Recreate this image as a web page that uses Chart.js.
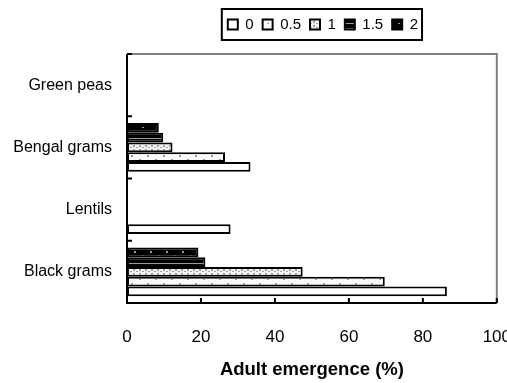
<!DOCTYPE html>
<html>
<head>
<meta charset="utf-8">
<script src="https://cdn.jsdelivr.net/npm/chart.js@4"></script>
<style>
  html, body { margin: 0; padding: 0; background: #fff; overflow: hidden; }
  #wrap { width: 507px; height: 383px; overflow: hidden; }
</style>
</head>
<body>
<div id="wrap"><canvas id="grafico" width="535" height="383"></canvas></div>
<script>
// categories, listed bottom to top
const categories = ['Black grams', 'Lentils', 'Bengal grams', 'Green peas'];
const seriesNames = ['0', '0.5', '1', '1.5', '2'];
const s0 = [86.5, 28, 33.4, 0];
const s05 = [69.7, 0, 26.5, 0];
const s1 = [47.5, 0, 12.3, 0];
const s15 = [21.2, 0, 9.8, 0];
const s2 = [19.3, 0, 8.6, 0];
const xTicks = [0, 20, 40, 60, 80, 100];

const font = "'Liberation Sans', Arial, sans-serif";

function makePattern(w, h, bg, draw) {
  const c = document.createElement('canvas');
  c.width = w; c.height = h;
  const g = c.getContext('2d');
  g.fillStyle = bg;
  g.fillRect(0, 0, w, h);
  draw(g);
  return g.createPattern(c, 'repeat');
}

const fills = [
  '#ffffff',
  makePattern(16, 8, '#fbfbfb', g => {
    g.fillStyle = '#9a9a9a';
    g.fillRect(3, 3, 2, 2);
    g.fillRect(11, 7, 2, 1);
  }),
  makePattern(6, 4, '#f4f4f4', g => {
    g.fillStyle = '#a0a0a0';
    g.fillRect(1, 1, 2, 2);
    g.fillRect(4, 3, 2, 1);
  }),
  makePattern(4, 5, '#000000', g => {
    g.fillStyle = '#9a9a9a';
    g.fillRect(0, 3, 4, 1);
  }),
  makePattern(16, 8, '#000000', g => {
    g.fillStyle = '#9a9a9a';
    g.fillRect(6, 3, 2, 2);
    g.fillRect(14, 7, 2, 1);
  })
];

const values = [s0, s05, s1, s15, s2];

// datasets reversed so that "0" sits at the bottom of each group
const datasets = seriesNames.map((name, i) => ({
  label: name,
  data: values[i],
  backgroundColor: fills[i],
  borderColor: '#000',
  borderWidth: 2,
  borderSkipped: false,
  categoryPercentage: 0.78,
  barPercentage: 1
})).reverse();

const frame = {
  id: 'frame',
  afterLayout(chart) {
    // nudge legend a little to the right, like the original
    chart.legend.left += 11;
    chart.legend.right += 11;
  },
  afterDraw(chart) {
    const ctx = chart.ctx;
    const {left, right, top, bottom} = chart.chartArea;
    const x = chart.scales.x, y = chart.scales.y;
    ctx.save();
    ctx.lineWidth = 2;
    ctx.strokeStyle = '#808080';
    ctx.beginPath();
    ctx.moveTo(left, top); ctx.lineTo(right, top); ctx.lineTo(right, bottom);
    ctx.stroke();
    ctx.strokeStyle = '#000';
    ctx.beginPath();
    ctx.moveTo(left, top); ctx.lineTo(left, bottom); ctx.lineTo(right, bottom);
    ctx.stroke();
    // tick marks pointing inwards
    x.ticks.forEach(t => {
      const px = x.getPixelForValue(t.value);
      ctx.beginPath(); ctx.moveTo(px, bottom); ctx.lineTo(px, bottom - 5); ctx.stroke();
    });
    for (let i = 0; i <= categories.length; i++) {
      const py = y.getPixelForValue(i - 0.5);
      ctx.beginPath(); ctx.moveTo(left, py); ctx.lineTo(left + 5, py); ctx.stroke();
    }
    // legend box
    const hb = chart.legend.legendHitBoxes;
    if (hb && hb.length) {
      const l = Math.min(...hb.map(b => b.left)) - 6;
      const r = Math.max(...hb.map(b => b.left + b.width)) + 4;
      const t = Math.min(...hb.map(b => b.top)) - 8;
      const b2 = Math.max(...hb.map(b => b.top + b.height)) + 8;
      ctx.lineWidth = 2;
      ctx.strokeStyle = '#000';
      ctx.strokeRect(l, t, r - l, b2 - t);
    }
    ctx.restore();
  }
};

new Chart(document.getElementById('grafico'), {
  type: 'bar',
  data: { labels: categories, datasets: datasets },
  options: {
    responsive: false,
    animation: false,
    indexAxis: 'y',
    layout: { padding: { top: 8, right: 0, bottom: 0, left: 0 } },
    plugins: {
      legend: {
        position: 'top',
        fullSize: false,
        reverse: true,
        labels: {
          color: '#000',
          font: { family: font, size: 15 },
          boxWidth: 10,
          boxHeight: 10,
          padding: 9
        }
      },
      title: { display: true, text: '', weight: 500, padding: 0, font: { size: 12, lineHeight: 1 } },
      tooltip: { enabled: false }
    },
    scales: {
      x: {
        min: 0,
        max: 100,
        afterBuildTicks: s => { s.ticks = xTicks.map(v => ({ value: v })); },
        afterFit: s => { s.height = 80; },
        border: { display: false },
        grid: { display: false, drawTicks: false },
        ticks: { color: '#000', font: { family: font, size: 17 }, padding: 24, maxRotation: 0 },
        title: {
          display: true,
          text: 'Adult emergence (%)',
          color: '#000',
          font: { family: font, size: 18.5, weight: 'bold' },
          padding: { top: 0, bottom: 2 }
        }
      },
      y: {
        reverse: true,
        afterFit: s => { s.width = 127; },
        border: { display: false },
        grid: { display: false, drawTicks: false },
        ticks: { color: '#000', font: { family: font, size: 16 }, padding: 15 }
      }
    }
  },
  plugins: [frame]
});
</script>
</body>
</html>
